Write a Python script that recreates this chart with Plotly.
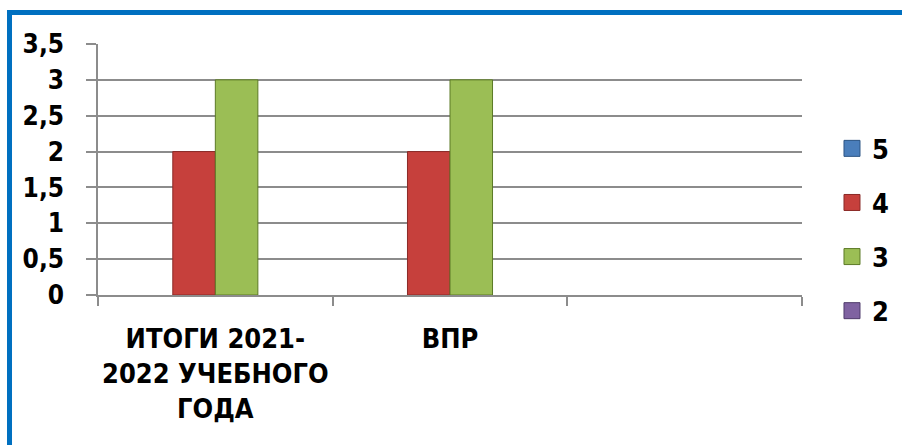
import plotly.graph_objects as go

categories = ["ИТОГИ 2021-2022 УЧЕБНОГО ГОДА", "ВПР", " "]
tick_labels = ["ИТОГИ 2021-<br>2022 УЧЕБНОГО<br>ГОДА", "ВПР", ""]
series_names = ["5", "4", "3", "2"]
values_5 = [0, 0, None]
values_4 = [2, 2, None]
values_3 = [3, 3, None]
values_2 = [0, 0, None]
y_ticks = [0, 0.5, 1, 1.5, 2, 2.5, 3, 3.5]
y_tick_labels = ["0", "0,5", "1", "1,5", "2", "2,5", "3", "3,5"]

FONT = "DejaVu Sans Condensed, DejaVu Sans, sans-serif"

colors = {"5": "#4A7EBB", "4": "#C6403C", "3": "#9BBE55", "2": "#7F62A1"}
edges = {"5": "#2C5484", "4": "#8A2A27", "3": "#5C7A26", "2": "#4F3B6B"}
series_values = {"5": values_5, "4": values_4, "3": values_3, "2": values_2}

fig = go.Figure()
for name in series_names:
    vals = series_values[name]
    zero_series = all(v in (0, None) for v in vals)
    fig.add_trace(go.Bar(
        x=categories, y=vals, name=name, showlegend=False,
        marker=dict(color=colors[name],
                    line=dict(color=edges[name], width=0 if zero_series else 1)),
        hoverinfo="skip",
    ))
# legend entries (square keys)
for name in series_names:
    fig.add_trace(go.Scatter(
        x=[None], y=[None], mode="markers", name=name, legendgroup=name,
        marker=dict(symbol="square", size=16, color=colors[name],
                    line=dict(color=edges[name], width=1)),
        hoverinfo="skip",
    ))

fig.update_layout(
    width=902, height=445,
    margin=dict(l=98, r=100, t=44, b=150, autoexpand=False),
    paper_bgcolor="white", plot_bgcolor="white",
    barmode="group", bargap=0.275, bargroupgap=0,
    font=dict(family=FONT, size=27, color="black"),
    showlegend=True,
    legend=dict(x=1.0426, y=0.68, xanchor="left", yanchor="top",
                font=dict(family=FONT, size=27, color="black", weight="bold"),
                tracegroupgap=16, traceorder="grouped",
                bgcolor="rgba(0,0,0,0)"),
    xaxis=dict(
        type="category", categoryorder="array", categoryarray=categories,
        tickmode="array", tickvals=categories, ticktext=tick_labels,
        tickson="boundaries", ticks="outside", ticklen=9, tickwidth=1.5,
        tickcolor="#8C8C8C", showgrid=False, showline=True, linecolor="#8C8C8C",
        linewidth=1.5, tickfont=dict(family=FONT, size=27, weight="bold"),
        tickangle=0,
        ticklabelstandoff=19, automargin=False,
        range=[-0.5, 2.5],
    ),
    yaxis=dict(
        range=[0, 3.5], tickmode="array", tickvals=y_ticks, ticktext=y_tick_labels,
        ticks="outside", ticklen=10, tickwidth=1.5, tickcolor="#8C8C8C",
        showgrid=True, gridcolor="#8C8C8C", gridwidth=1.5,
        showline=True, linecolor="#8C8C8C", linewidth=1.5,
        zeroline=False, automargin=False,
        tickfont=dict(family=FONT, size=26, weight="bold"),
        ticklabelstandoff=17,
    ),
    shapes=[
        dict(type="rect", xref="paper", yref="paper",
             x0=-0.1257, x1=1.2, y0=-1.0, y1=1.1255,
             line=dict(color="#0070C0", width=5), layer="above"),
    ],
)

fig.write_html("out.html",
               config={"displayModeBar": False},
               post_script="document.body.style.margin='0';document.body.style.padding='0';")
